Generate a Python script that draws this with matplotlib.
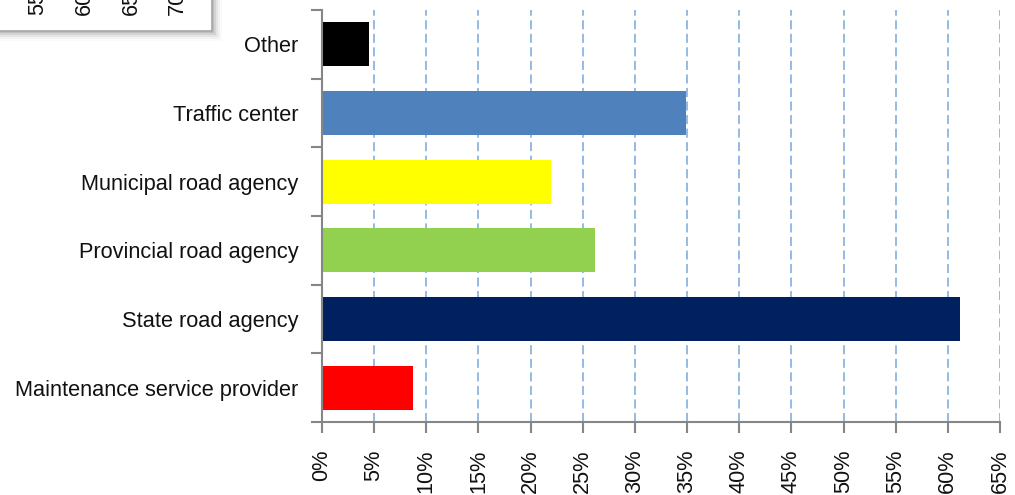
#
# Horizontal bar chart: responsible organisation shares
#

import numpy as np
import matplotlib.pyplot as plt
from matplotlib.patches import Rectangle
from matplotlib.ticker import FixedLocator

plt.rcParams['font.family'] = ['Liberation Sans', 'DejaVu Sans']

# data
categories = ['Maintenance service provider', 'State road agency',
              'Provincial road agency', 'Municipal road agency',
              'Traffic center', 'Other']
values = [8.7, 61.2, 26.2, 22.0, 34.9, 4.5]
barColors = ['#FF0000', '#002060', '#92D050', '#FFFF00', '#4F81BD', '#000000']
xTicks = np.arange(0, 66, 5)
xTickLabels = ['%d%%' % t for t in xTicks]
# fragment of another chart's axis that overlaps at the top left
overlayLabels = ['55%', '60%', '65%', '70%']

# parameters
W, H = 1015, 495
axPos = [322 / W, 1 - 422 / H, (1000 - 322) / W, (422 - 10) / H]
gridColor = '#8DB4E2'
axisColor = '#868686'
fontSize = 15.7

fig = plt.figure(figsize=[W / 100, H / 100], dpi=100, facecolor='w')
ax = fig.add_axes(axPos)

yPos = np.arange(len(categories))
ax.barh(yPos, values, height=0.64, color=barColors, zorder=3)

ax.set_xlim(0, 65)
ax.set_ylim(-0.5, len(categories) - 0.5)

# x axis
ax.set_xticks(xTicks)
ax.set_xticklabels(xTickLabels, rotation=90, fontsize=fontSize, color='#111111')
ax.tick_params(axis='x', which='major', direction='out', length=8, width=1.5,
               color=axisColor, pad=12)

# y axis: labels at centers, ticks at boundaries
ax.set_yticks(yPos)
ax.set_yticklabels(categories, fontsize=fontSize, color='#111111')
ax.tick_params(axis='y', which='major', length=0, pad=17)
ax.yaxis.set_minor_locator(FixedLocator(np.arange(-0.5, len(categories), 1.0)))
ax.tick_params(axis='y', which='minor', direction='out', length=8, width=1.5,
               color=axisColor)

for xg in xTicks[1:]:
    ax.axvline(xg, color=gridColor, linewidth=1.3, dashes=(5, 2.5), zorder=1)

for s in ['top', 'right']:
    ax.spines[s].set_visible(False)
for s in ['left', 'bottom']:
    ax.spines[s].set_color(axisColor)
    ax.spines[s].set_linewidth(1.5)
    ax.spines[s].set_zorder(4)

# overlay box in the top left corner (with soft shadow)
for i, a in enumerate([0.10, 0.07, 0.05, 0.03, 0.02]):
    off = 2 + 2 * i
    fig.patches.append(Rectangle((0, 1 - (31 + off) / H), (212 + off) / W,
                                 (31 + off) / H, transform=fig.transFigure,
                                 facecolor='k', alpha=a, edgecolor='none',
                                 zorder=5))
fig.patches.append(Rectangle((-2 / W, 1 - 31 / H), 214 / W, 33 / H,
                             transform=fig.transFigure, facecolor='w',
                             edgecolor='#A6A6A6', linewidth=1.2, zorder=6))
for i, lab in enumerate(overlayLabels):
    fig.text((38 + 46.5 * i) / W, 1 - 15 / H, lab, rotation=90, ha='center',
             va='bottom', fontsize=fontSize, color='#111111', zorder=7)

plt.savefig('out.png', dpi=100, facecolor='w')
